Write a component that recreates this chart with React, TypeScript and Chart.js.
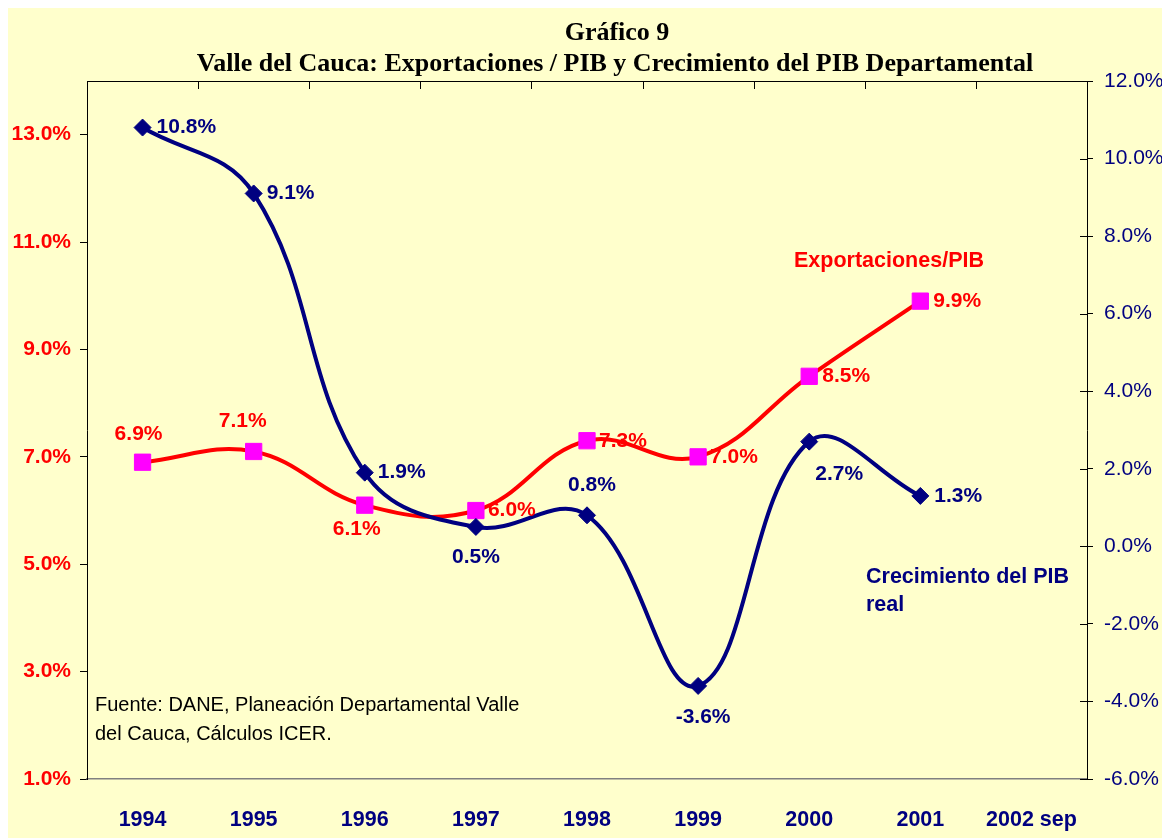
import { useEffect, useRef } from 'react';
import { Chart, registerables } from 'chart.js';

Chart.register(...registerables);

// ---- data ----
const categories = ['1994', '1995', '1996', '1997', '1998', '1999', '2000', '2001', '2002 sep'];
const exportacionesPib = [6.9, 7.1, 6.1, 6.0, 7.3, 7.0, 8.5, 9.9, null];
const crecimientoPib = [10.8, 9.1, 1.9, 0.5, 0.8, -3.6, 2.7, 1.3, null];
const leftTicks = [1, 3, 5, 7, 9, 11, 13];
const rightTicks = [-6, -4, -2, 0, 2, 4, 6, 8, 10, 12];
const titleLines = ['Gráfico 9', 'Valle del Cauca: Exportaciones / PIB y Crecimiento del PIB Departamental'];
const sourceLines = ['Fuente: DANE, Planeación Departamental Valle', 'del Cauca, Cálculos ICER.'];
const exportLabel = ['Exportaciones/PIB'];
const crecLabel = ['Crecimiento del PIB', 'real'];

// ---- label placement (dx, dy, align) ----
const expLabelPos: [number, number, CanvasTextAlign][] = [
  [-4, -28, 'center'], [-11, -30, 'center'], [-8, 24, 'center'], [12, 0, 'left'],
  [12, 0, 'left'], [12, 0, 'left'], [13, 0, 'left'], [13, 0, 'left'],
];
const crecLabelPos: [number, number, CanvasTextAlign][] = [
  [14, 0, 'left'], [13, 0, 'left'], [13, 0, 'left'], [0, 30, 'center'],
  [5, -30, 'center'], [5, 31, 'center'], [30, 33, 'center'], [14, 0, 'left'],
];

const RED = '#FF0000';
const NAVY = '#000080';
const MAGENTA = '#FF00FF';
const BG = '#FFFFCC';
const W = 1162;
const H = 830;
const SANS = 'Arial, "Liberation Sans", sans-serif';

const fmt = (v: number) => v.toFixed(1) + '%';

const decorPlugin = {
  id: 'decor',
  afterDatasetsDraw(chart: any) {
    const ctx = chart.ctx;
    ctx.save();
    ctx.textBaseline = 'middle';
    ctx.font = 'bold 21px ' + SANS;
    const drawSet = (dsIndex: number, values: (number | null)[], pos: [number, number, CanvasTextAlign][], color: string) => {
      const meta = chart.getDatasetMeta(dsIndex);
      ctx.fillStyle = color;
      values.forEach((v, i) => {
        if (v == null) return;
        const el = meta.data[i];
        const p = pos[i];
        ctx.textAlign = p[2];
        ctx.fillText(fmt(v), el.x + p[0], el.y + p[1]);
      });
    };
    drawSet(1, exportacionesPib, expLabelPos, RED);
    drawSet(0, crecimientoPib, crecLabelPos, NAVY);
    ctx.restore();
  },
  afterDraw(chart: any) {
    const ctx = chart.ctx;
    const area = chart.chartArea;
    const x = chart.scales.x;
    const y1 = chart.scales.y1;
    ctx.save();
    // top border with inner ticks
    ctx.strokeStyle = '#000000';
    ctx.lineWidth = 1;
    ctx.beginPath();
    ctx.moveTo(area.left, Math.round(area.top) + 0.5);
    ctx.lineTo(area.right, Math.round(area.top) + 0.5);
    const n = categories.length;
    for (let i = 1; i < n; i++) {
      const px = Math.round((x.getPixelForValue(i - 1) + x.getPixelForValue(i)) / 2) + 0.5;
      ctx.moveTo(px, area.top);
      ctx.lineTo(px, area.top + 8);
    }
    // inner part of right axis ticks
    rightTicks.forEach((t) => {
      const py = Math.round(y1.getPixelForValue(t)) + 0.5;
      ctx.moveTo(area.right - 7, py);
      ctx.lineTo(area.right, py);
    });
    ctx.stroke();

    // title
    ctx.fillStyle = '#000000';
    ctx.textAlign = 'center';
    ctx.textBaseline = 'alphabetic';
    ctx.font = 'bold 26px "Liberation Serif", "Times New Roman", serif';
    ctx.fillText(titleLines[0], 609, 32);
    ctx.fillText(titleLines[1], 607, 63);

    // series names
    ctx.textAlign = 'left';
    ctx.textBaseline = 'middle';
    ctx.font = 'bold 21.5px ' + SANS;
    ctx.fillStyle = RED;
    ctx.fillText(exportLabel[0], 786, 253);
    ctx.fillStyle = NAVY;
    crecLabel.forEach((s, i) => ctx.fillText(s, 858, 569 + i * 28));

    // source
    ctx.fillStyle = '#000000';
    ctx.textBaseline = 'alphabetic';
    ctx.font = '20px ' + SANS;
    sourceLines.forEach((s, i) => ctx.fillText(s, 87, 703 + i * 29));
    ctx.restore();
  },
};

export default function App() {
  const ref = useRef<HTMLCanvasElement | null>(null);
  useEffect(() => {
    if (!ref.current) return;
    const chart = new Chart(ref.current, {
      type: 'line',
      data: {
        labels: categories,
        datasets: [
          {
            label: 'Crecimiento del PIB real',
            data: crecimientoPib,
            yAxisID: 'y1',
            borderColor: NAVY,
            backgroundColor: NAVY,
            borderWidth: 4,
            tension: 0.4,
            pointStyle: 'rectRot',
            pointRadius: 8.5,
            pointBorderWidth: 1,
            pointBackgroundColor: NAVY,
            pointBorderColor: NAVY,
            order: 0,
          },
          {
            label: 'Exportaciones/PIB',
            data: exportacionesPib,
            yAxisID: 'y',
            borderColor: RED,
            backgroundColor: MAGENTA,
            borderWidth: 4,
            tension: 0.4,
            pointStyle: 'rect',
            pointRadius: 11.5,
            pointBorderWidth: 1,
            pointBackgroundColor: MAGENTA,
            pointBorderColor: MAGENTA,
            order: 1,
          },
        ],
      },
      options: {
        responsive: false,
        animation: false,
        layout: { padding: { top: 73, left: 0, right: 0, bottom: 0 } },
        plugins: {
          legend: { display: false },
          tooltip: { enabled: false },
          title: { display: false },
        },
        scales: {
          x: {
            type: 'category',
            position: 'bottom',
            offset: true,
            grid: { display: false },
            border: { display: true, color: '#808080', width: 1.5 },
            ticks: {
              color: NAVY,
              font: { family: SANS, size: 21.5, weight: 'bold' },
              padding: 20,
              maxRotation: 0,
              autoSkip: false,
            },
            afterFit: (s: any) => { s.height = 59; },
          },
          y: {
            type: 'linear',
            position: 'left',
            min: 1,
            max: 14,
            afterBuildTicks: (s: any) => { s.ticks = leftTicks.map((v) => ({ value: v })); },
            grid: { drawOnChartArea: false, tickLength: 7, color: '#000000' },
            border: { display: true, color: '#000000', width: 1 },
            ticks: {
              color: RED,
              font: { family: SANS, size: 21, weight: 'bold' },
              padding: 9,
              callback: (v: any) => fmt(Number(v)),
            },
            afterFit: (s: any) => { s.width = 79; },
          },
          y1: {
            type: 'linear',
            position: 'right',
            min: -6,
            max: 12,
            afterBuildTicks: (s: any) => { s.ticks = rightTicks.map((v) => ({ value: v })); },
            grid: { drawOnChartArea: false, tickLength: 6, color: '#000000' },
            border: { display: true, color: '#000000', width: 1 },
            ticks: {
              color: NAVY,
              font: { family: SANS, size: 21 },
              padding: 11,
              callback: (v: any) => fmt(Number(v)),
            },
            afterFit: (s: any) => { s.width = 83; },
          },
        },
      },
      plugins: [decorPlugin],
    });
    return () => chart.destroy();
  }, []);
  return (
    <div style={{ width: W, height: H, background: BG }}>
      <canvas ref={ref} width={W} height={H} style={{ display: 'block', width: W, height: H }} />
    </div>
  );
}
